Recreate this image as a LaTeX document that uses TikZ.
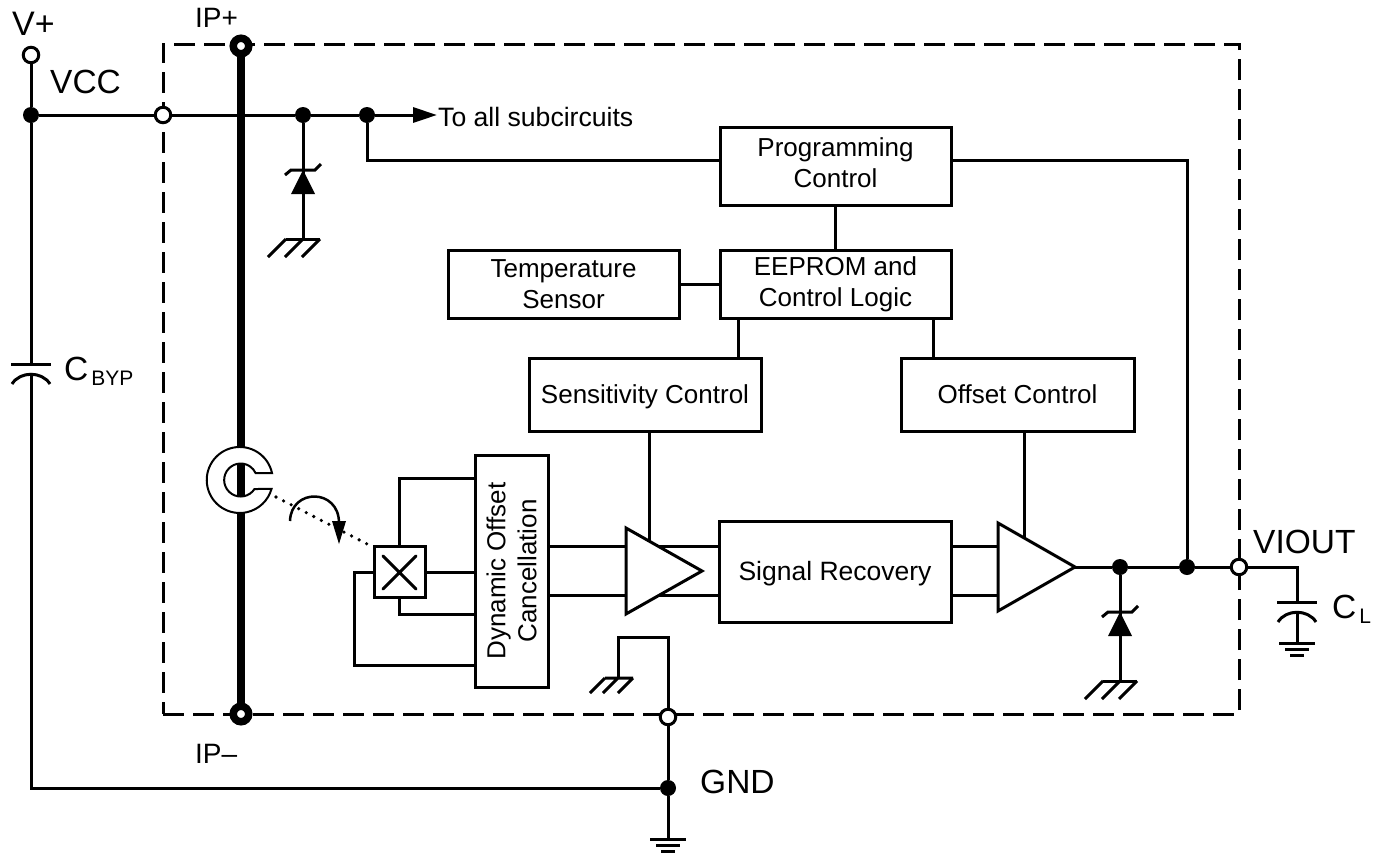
\documentclass[tikz,border=0pt]{standalone}
\usepackage{fontspec}
\setmainfont{Liberation Sans}
\usetikzlibrary{arrows.meta,backgrounds,shapes.geometric}
\tikzset{
  wire/.style={line width=3pt,line join=miter},
  blockbox/.style={draw,line width=3pt,fill=white,align=center,inner sep=0pt,font=\fontsize{26}{31}\selectfont},
  dot/.style={circle,fill=black,minimum size=16pt,inner sep=0pt},
  pin/.style={circle,draw,line width=3pt,fill=white,minimum size=15.5pt,inner sep=0pt},
  ring/.style={circle,draw,line width=7.5pt,fill=white,minimum size=15.5pt,inner sep=0pt},
  lab/.style={inner sep=0pt,anchor=base west,font=\fontsize{33.5}{36}\selectfont},
  amp/.style={isosceles triangle,isosceles triangle stretches,draw,line width=3pt,fill=white,inner sep=0pt,outer sep=0pt,anchor=apex},
  plate/.style={line width=3pt}
}
\newcommand{\shifted}[2]{\raisebox{#1}[\height][\depth]{#2}}
\newcommand{\zenergnd}[2]{% x, y of cathode bar
  \fill (#1,#2) -- ++(12,24) -- ++(-24,0) -- cycle;
  \draw[wire] (#1-18,#2+5) -- (#1-12,#2) -- (#1+12,#2) -- (#1+18,#2-6);
  \draw[wire] (#1-17,#2+69) -- (#1+17,#2+69);
  \draw[wire] (#1-17,#2+69) -- ++(-18,18) (#1,#2+69) -- ++(-18,18) (#1+17,#2+69) -- ++(-18,18);
}
\newcommand{\earth}[2]{%
  \draw[wire] (#1-18,#2) -- (#1+18,#2);
  \draw[wire] (#1-12,#2+6) -- (#1+12,#2+6);
  \draw[wire] (#1-7,#2+12) -- (#1+7,#2+12);
}
\begin{document}
\begin{tikzpicture}[x=1pt,y=-1pt]
\useasboundingbox (0,0) rectangle (1385,855);
% blocks
\node[blockbox,minimum width=231pt,minimum height=78pt] (prog) at (835.5,166) {\shifted{3pt}{Programming}\\\shifted{3pt}{Control}};
\node[blockbox,minimum width=231pt,minimum height=68pt] (eeprom) at (835.5,284) {EEPROM and\\Control Logic};
\node[blockbox,minimum width=231pt,minimum height=68pt] (temp) at (563.5,284) {Temperature\\Sensor};
\node[blockbox,minimum width=232pt,minimum height=73pt] (sens) at (645,394.5) {\shifted{-2pt}{Sensitivity Control}};
\node[blockbox,minimum width=233pt,minimum height=73pt] (offs) at (1017.5,394.5) {Offset Control};
\node[blockbox,rotate=90,minimum width=232pt,minimum height=73pt] (doc) at (511.5,571) {Dynamic Offset\\Cancellation};
\node[blockbox,minimum width=232pt,minimum height=101pt] (sig) at (835,571.5) {\shifted{-2pt}{\fontsize{26.5}{31}\selectfont Signal Recovery}};
\node[draw,line width=3pt,fill=white,minimum size=51pt,inner sep=0pt] (hall) at (399.5,572) {};
\draw[wire,line cap=round] (383,556) -- (416,589) (383,589) -- (416,556);
\node[amp,minimum height=76pt,minimum width=86pt] (amp1) at (702,571) {};
\node[amp,minimum height=77pt,minimum width=88pt] (amp2) at (1075,567) {};
% pins and junctions
\node[pin] (vplus) at (31,55) {};
\node[dot] (jvcc) at (31,115) {};
\node[pin] (pvcc) at (163,115) {};
\node[dot] (jz1) at (303,115) {};
\node[dot] (jsub) at (367,115) {};
\node[dot] (jz2) at (1120,567) {};
\node[dot] (jprog) at (1187,567) {};
\node[pin] (pout) at (1239,567) {};
\node[pin] (pgnd) at (668,717) {};
\node[dot] (jgnd) at (668,788) {};
\node[ring] (ipp) at (241,46) {};
\node[ring] (ipm) at (241,714) {};
% free points
\coordinate (subend) at (437,115);
\coordinate (capa) at (31,364);
\coordinate (capb) at (31,375);
\coordinate (cl) at (1297,567);
\coordinate (clp) at (1297,602);
\coordinate (clq) at (1297,612);
\coordinate (cle) at (1297,643);
\coordinate (z1) at (303,170);
\coordinate (z1g) at (303,239);
\coordinate (z2) at (1120,612);
\coordinate (z2g) at (1120,681);
\coordinate (g3) at (618,678);
\coordinate (gnde) at (668,839);
\coordinate (dotsa) at (276,497);
\coordinate (dotsb) at (371,546);
% C-shaped concentrator
\draw[line width=2pt,fill=white] (272,473) arc[start angle=-12.2,end angle=-344.2,radius=33]
  -- (254.5,489) arc[start angle=33,end angle=335,radius=16.5] -- cycle;
% labels
\node[lab] (tv) at (12,35) {\fontsize{34}{36}\selectfont V+};
\node[lab] (tip) at (195,27) {\fontsize{28}{32}\selectfont IP+};
\node[lab] (tvcc) at (50,93) {VCC};
\node[lab] (tviout) at (1253,553) {VIOUT};
\node[lab] (tcl) at (1332,618) {C\kern3pt\fontsize{21}{21}\selectfont\raisebox{-5pt}{L}};
\node[lab] (tcb) at (64,380) {C\kern3pt\fontsize{21}{21}\selectfont\raisebox{-5pt}{BYP}};
\node[lab] (tim) at (195,763) {\fontsize{28}{32}\selectfont IP–};
\node[lab] (tgnd) at (700,793) {GND};
\node[inner sep=0pt,anchor=west,font=\fontsize{26.6}{31}\selectfont] (tsub) at (438,117) {To all subcircuits};
\begin{scope}[on background layer]
\node[draw,line width=3pt,dash pattern=on 21pt off 9pt,minimum width=1076pt,minimum height=670pt] (chip) at (701,379) {};
\draw[line width=7.5pt] (ipp.center) -- (ipm.center);
\draw[wire] (vplus) -- (jvcc);
\draw[wire] (jvcc) -- (pvcc) -- (jz1) -- (jsub);
\draw[wire,-{Triangle[length=24pt,width=15pt]}] (jsub) -- (subend);
\draw[wire] (jvcc) -- (capa);
\draw[wire] (capb) |- (jgnd);
\draw[wire] (jz1) -- (z1) (z1) -- (z1g);
\draw[wire] (jsub) |- (prog.west |- 0,160);
\draw[wire] (prog.east |- 0,160) -| (jprog);
\draw[wire] (prog) -- (eeprom);
\draw[wire] (temp) -- (eeprom);
\draw[wire] (sens.north -| 738,0) -- (eeprom.south -| 738,0);
\draw[wire] (offs.north -| 933,0) -- (eeprom.south -| 933,0);
\draw[wire] (sens.south -| 649,0) -- (649,550);
\draw[wire] (offs.south -| 1024,0) -- (1024,546);
\draw[wire] (doc.south |- 0,546) -- (sig.west |- 0,546);
\draw[wire] (doc.south |- 0,595) -- (sig.west |- 0,595);
\draw[wire] (sig.east |- 0,546) -- (amp2.lower side |- 0,546);
\draw[wire] (sig.east |- 0,595) -- (amp2.lower side |- 0,595);
\draw[wire] (amp2.apex) -- (jz2) -- (jprog) -- (pout) -- (cl) -- (clp);
\draw[wire] (clq) -- (cle);
\draw[wire] (jz2) -- (z2) (z2) -- (z2g);
\draw[wire] (pgnd) -- (jgnd) -- (gnde);
\draw[wire] (pgnd) |- (618,637) -- (g3);
\draw[wire] (hall.north) |- (doc.north |- 0,478);
\draw[wire] (hall.east) -- (doc.north |- hall.east);
\draw[wire] (hall.south) |- (doc.north |- 0,614);
\draw[wire] (hall.west) -| (354,665) -- (doc.north |- 0,665);
\end{scope}
% symbols
\draw[plate] (11,364) -- (51,364);
\draw[plate] (12,384) .. controls (20,371) and (42,371) .. (50,384);
\draw[plate] (1277,602) -- (1317,602);
\draw[plate] (1278,622) .. controls (1286,609) and (1308,609) .. (1316,622);
\earth{1297}{643}
\earth{668}{839}
\zenergnd{303}{170}
\zenergnd{1120}{612}
\draw[wire] (605,678) -- (633,678) (605,678) -- ++(-15,15) (618,678) -- ++(-15,15) (633,678) -- ++(-15,15);
% dotted flux line and rotation arrow
\draw[line width=3.6pt,line cap=round,dash pattern=on 0pt off 8.5pt] (dotsa) -- (dotsb);
\draw[line width=2.5pt] (290,521) .. controls (291,488) and (339,488) .. (339,523);
\fill (332,521) -- (346,521) -- (339,544) -- cycle;
\end{tikzpicture}
\end{document}
